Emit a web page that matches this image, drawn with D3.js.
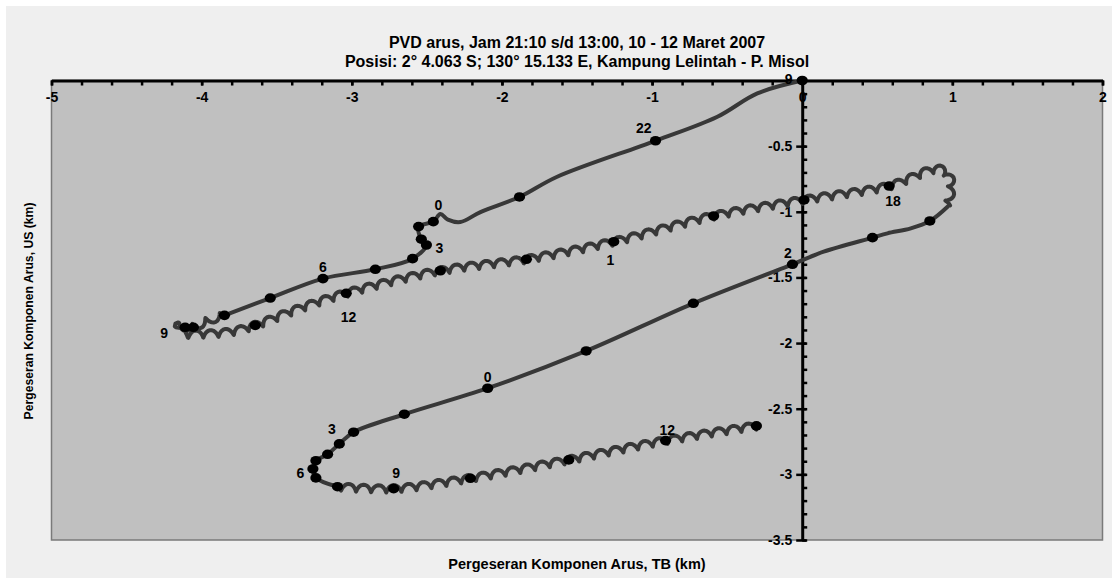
<!DOCTYPE html>
<html>
<head>
<meta charset="utf-8">
<script src="https://cdn.jsdelivr.net/npm/d3@7"></script>
<style>
  body { margin: 0; background: #ffffff; }
  svg text { font-family: "Liberation Sans", Arial, sans-serif; font-weight: bold; fill: #000; }
</style>
</head>
<body>
<svg id="chart" width="1112" height="578"></svg>
<script>
// titles
const titleLines = [
    "PVD arus, Jam 21:10 s/d 13:00, 10 - 12 Maret 2007",
    "Posisi: 2° 4.063 S; 130° 15.133 E, Kampung Lelintah - P. Misol"
];
const xTitle = "Pergeseran Komponen Arus, TB (km)";
const yTitle = "Pergeseran Komponen Arus, US (km)";

// axis ticks
const xMajorTicks = [-5, -4, -3, -2, -1, 0, 1, 2];
const yMajorTicks = [-0.5, -1, -1.5, -2, -2.5, -3, -3.5];

// track legs (km east, km north)
const leg1X = [0, -0.299, -0.565, -0.977, -1.632, -1.883, -2.143, -2.277, -2.36, -2.41, -2.457, -2.555, -2.537, -2.503, -2.595, -2.843, -3.192, -3.543, -3.848];
const leg1Y = [0, -0.098, -0.276, -0.459, -0.733, -0.887, -1.002, -1.078, -1.06, -1.017, -1.075, -1.113, -1.209, -1.253, -1.357, -1.438, -1.509, -1.657, -1.789];

const leg2X = [-3.848, -3.977, -4.055, -4.11, -4.157, -4.13, -4.01, -3.81, -3.643, -3.343, -3.037, -2.41, -1.837, -1.255, -0.59, 0.012, 0.579, 0.919, 0.99, 0.99, 0.968];
const leg2Y = [-1.789, -1.839, -1.88, -1.88, -1.87, -1.923, -1.931, -1.915, -1.865, -1.735, -1.621, -1.449, -1.362, -1.228, -1.032, -0.91, -0.804, -0.676, -0.76, -0.847, -0.961];

const leg3X = [0.968, 0.85, 0.723, 0.568, 0.468, 0.143, -0.065, -0.725, -1.439, -2.095, -2.65, -2.988, -3.083, -3.161, -3.239, -3.259, -3.239, -3.095];
const leg3Y = [-0.961, -1.07, -1.126, -1.164, -1.197, -1.304, -1.4, -1.697, -2.06, -2.344, -2.542, -2.679, -2.768, -2.847, -2.896, -2.959, -3.027, -3.094];

const leg4X = [-3.095, -2.721, -2.21, -1.555, -0.91, -0.305];
const leg4Y = [-3.094, -3.109, -3.03, -2.89, -2.743, -2.631];

// hourly markers
const dotX = [0, -0.977, -1.883, -2.457, -2.555, -2.537, -2.503, -2.595, -2.843, -3.192, -3.543, -3.848, -4.055, -4.11,
    -3.643, -3.037, -2.41, -1.837, -1.255, -0.59, 0.012, 0.579, 0.85, 0.468, -0.065, -0.725, -1.439, -2.095, -2.65,
    -2.988, -3.083, -3.161, -3.239, -3.259, -3.239, -3.095, -2.721, -2.21, -1.555, -0.91, -0.305];
const dotY = [0, -0.459, -0.887, -1.075, -1.113, -1.209, -1.253, -1.357, -1.438, -1.509, -1.657, -1.789, -1.88, -1.88,
    -1.865, -1.621, -1.449, -1.362, -1.228, -1.032, -0.91, -0.804, -1.07, -1.197, -1.4, -1.697, -2.06, -2.344, -2.542,
    -2.679, -2.768, -2.847, -2.896, -2.959, -3.027, -3.094, -3.109, -3.03, -2.89, -2.743, -2.631];

// hour labels and where they sit (km)
const hourText = ["9", "22", "0", "3", "6", "9", "12", "1", "18", "2", "0", "3", "6", "9", "12"];
const hourX = [-0.09, -1.055, -2.423, -2.417, -3.192, -4.25, -3.021, -1.277, 0.605, -0.095, -2.095, -3.132, -3.343, -2.705, -0.899];
const hourY = [0.011, -0.364, -0.948, -1.273, -1.423, -1.921, -1.799, -1.367, -0.918, -1.312, -2.256, -2.657, -2.987, -2.987, -2.662];

// ---- drawing ----
const svg = d3.select("#chart");
const plotLeft = 51.5, plotRight = 1102.5, plotTop = 80.5, plotBottom = 540;

const x = d3.scaleLinear().domain([-5, 2]).range([plotLeft, plotRight]);
const y = d3.scaleLinear().domain([0, -3.5]).range([plotTop, plotBottom]);

svg.append("rect").attr("x", 6).attr("y", 6).attr("width", 1106).attr("height", 572).attr("fill", "#efefef");
svg.append("rect")
    .attr("x", plotLeft).attr("y", plotTop)
    .attr("width", plotRight - plotLeft).attr("height", plotBottom - plotTop)
    .attr("fill", "#c0c0c0")
    .attr("stroke", "#7a7a7a")
    .attr("stroke-width", 1.5);

svg.selectAll(".title")
    .data(titleLines)
    .enter().append("text")
    .attr("class", "title")
    .attr("x", (plotLeft + plotRight) / 2)
    .attr("y", (d, i) => 48 + i * 19)
    .attr("text-anchor", "middle")
    .attr("font-size", 16)
    .text(d => d);

svg.append("text")
    .attr("x", (plotLeft + plotRight) / 2)
    .attr("y", 569)
    .attr("text-anchor", "middle")
    .attr("font-size", 14.5)
    .text(xTitle);

svg.append("text")
    .attr("transform", `translate(33,311) rotate(-90)`)
    .attr("text-anchor", "middle")
    .attr("font-size", 12.2)
    .text(yTitle);

// x axis along the top (y = 0)
const fmt = d => String(d);
const xMinor = svg.append("g")
    .attr("transform", `translate(0,${y(0)})`)
    .call(d3.axisBottom(x).tickValues(d3.range(-5, 2.001, 0.2)).tickSize(5).tickSizeOuter(0).tickFormat(""));
xMinor.select(".domain").remove();
xMinor.selectAll(".tick line").attr("stroke-width", 2.5);

const xAxis = svg.append("g")
    .attr("transform", `translate(0,${y(0)})`)
    .call(d3.axisBottom(x).tickValues(xMajorTicks).tickSize(5).tickSizeOuter(0).tickPadding(7).tickFormat(fmt));
xAxis.select(".domain").attr("stroke-width", 3);
xAxis.selectAll(".tick line").attr("stroke-width", 2.5);
xAxis.selectAll(".tick text").attr("font-size", 14).attr("font-family", null);

// y axis along x = 0
const yMinor = svg.append("g")
    .attr("transform", `translate(${x(0)},0)`)
    .call(d3.axisRight(y).tickValues(d3.range(0, -3.501, -0.1)).tickSize(5).tickSizeOuter(0).tickFormat(""));
yMinor.select(".domain").remove();
yMinor.selectAll(".tick line").attr("stroke-width", 2.5);

const yAxis = svg.append("g")
    .attr("transform", `translate(${x(0)},0)`)
    .call(d3.axisLeft(y).tickValues(yMajorTicks).tickSize(6).tickSizeOuter(0).tickPadding(4).tickFormat(fmt));
yAxis.select(".domain").attr("stroke-width", 3);
yAxis.selectAll(".tick line").attr("x1", 4).attr("stroke-width", 2.5);
yAxis.selectAll(".tick text").attr("font-size", 14).attr("font-family", null);

// track
const lineColor = "#383838";
const smooth = d3.line().x(d => x(d[0])).y(d => y(d[1])).curve(d3.curveCatmullRom.alpha(0.5));
const wave = { period: 15, amp: 3.6, lean: 2 };

function wavyPath(pts) {
    const tmp = svg.append("path").attr("d", smooth(pts)).attr("fill", "none");
    const node = tmp.node();
    const len = node.getTotalLength();
    const out = [];
    for (let s = 0; s <= len; s += 1) {
        const p = node.getPointAtLength(s);
        const a = node.getPointAtLength(Math.max(0, s - 1));
        const b = node.getPointAtLength(Math.min(len, s + 1));
        let tx = b.x - a.x, ty = b.y - a.y;
        const n = Math.hypot(tx, ty) || 1;
        tx /= n; ty /= n;
        const ph = 2 * Math.PI * s / wave.period;
        const off = wave.amp * Math.sin(ph), lean = wave.lean * Math.cos(ph);
        out.push([p.x - ty * off + tx * lean, p.y + tx * off + ty * lean]);
    }
    tmp.remove();
    return d3.line()(out);
}

const legs = [
    { xs: leg1X, ys: leg1Y, wavy: false },
    { xs: leg2X, ys: leg2Y, wavy: true },
    { xs: leg3X, ys: leg3Y, wavy: false },
    { xs: leg4X, ys: leg4Y, wavy: true }
];

for (const leg of legs) {
    const pts = leg.xs.map((v, i) => [v, leg.ys[i]]);
    svg.append("path")
        .attr("d", leg.wavy ? wavyPath(pts) : smooth(pts))
        .attr("fill", "none")
        .attr("stroke", lineColor)
        .attr("stroke-width", 4)
        .attr("stroke-linejoin", "round")
        .attr("stroke-linecap", "round");
}

svg.selectAll(".dot")
    .data(dotX)
    .enter().append("ellipse")
    .attr("class", "dot")
    .attr("cx", d => x(d))
    .attr("cy", (d, i) => y(dotY[i]))
    .attr("rx", 5.6)
    .attr("ry", 4.8)
    .attr("fill", "#000");

svg.selectAll(".hour")
    .data(hourText)
    .enter().append("text")
    .attr("class", "hour")
    .attr("x", (d, i) => x(hourX[i]))
    .attr("y", (d, i) => y(hourY[i]) + 5)
    .attr("text-anchor", "middle")
    .attr("font-size", 14)
    .text(d => d);
</script>
</body>
</html>
